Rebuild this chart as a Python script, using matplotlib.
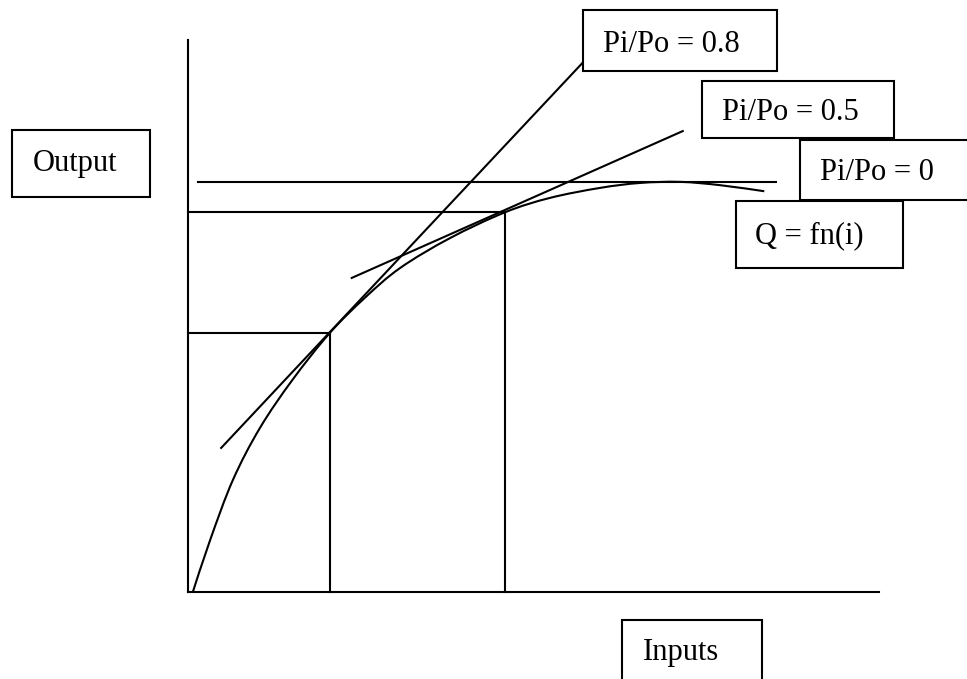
import matplotlib
matplotlib.use("Agg")
import matplotlib.pyplot as plt
import matplotlib.patches as patches
from matplotlib.path import Path

# Production function Q = fn(i) (input, output)
inputs = [0.07, 0.32, 0.65, 1.04, 1.51, 2.05, 2.56, 3.07, 3.79, 4.59,
          5.24, 5.96, 6.54, 7.12, 7.70, 8.34]
output = [0.00, 0.94, 2.03, 2.97, 3.84, 4.69, 5.33, 5.87, 6.41, 6.88,
          7.14, 7.32, 7.41, 7.43, 7.37, 7.26]

# chosen input levels and the output they give
input_levels = [2.05, 4.59]
output_levels = [4.69, 6.88]

# price-ratio lines (Pi/Po), as end points
ratio_08_x = [0.48, 5.72]
ratio_08_y = [2.61, 9.60]
ratio_05_x = [2.37, 7.16]
ratio_05_y = [5.69, 8.35]
ratio_0_x = [0.14, 8.51]
ratio_0_y = [7.43, 7.43]

axis_max = 10

# labels: (text, box left, box top, box right, box bottom, text x, baseline) in pixels
labels = [
    ("Output", 12, 130, 150, 197, 33, 171),
    ("Pi/Po = 0.8", 583, 10, 777, 71, 603, 52),
    ("Pi/Po = 0.5", 702, 81, 894, 138, 722, 120),
    ("Pi/Po = 0", 800, 140, 990, 200, 820, 180),
    ("Q = fn(i)", 736, 201, 903, 268, 755, 243),
    ("Inputs", 622, 620, 762, 700, 643, 660),
]


def smooth_path(xs, ys):
    # bezier segments through the points (catmull-rom handles), so the
    # hand-drawn curve is drawn smooth rather than as a polyline
    pts = list(zip(xs, ys))
    verts = [pts[0]]
    codes = [Path.MOVETO]
    n = len(pts)
    for i in range(n - 1):
        p0 = pts[i - 1] if i > 0 else pts[i]
        p1 = pts[i]
        p2 = pts[i + 1]
        p3 = pts[i + 2] if i + 2 < n else pts[i + 1]
        c1 = (p1[0] + (p2[0] - p0[0]) / 6, p1[1] + (p2[1] - p0[1]) / 6)
        c2 = (p2[0] - (p3[0] - p1[0]) / 6, p2[1] - (p3[1] - p1[1]) / 6)
        verts += [c1, c2, p2]
        codes += [Path.CURVE4] * 3
    return Path(verts, codes)


W, H = 967, 679
fig = plt.figure(figsize=(W / 100, H / 100), dpi=100)
fig.patch.set_facecolor("white")

# data axes: origin sits at pixel (188, 592)
ax = fig.add_axes([0, 0, 1, 1])
sx, sy = 69.1, 55.2
ax.set_xlim(-188 / sx, (W - 188) / sx)
ax.set_ylim(-(H - 592) / sy, 592 / sy)
ax.axis("off")

lw = 1.5
k = "black"
ax.plot([0, axis_max], [0, 0], color=k, lw=lw)
ax.plot([0, 0], [0, axis_max], color=k, lw=lw)

for xi, yo in zip(input_levels, output_levels):
    ax.plot([0, xi], [yo, yo], color=k, lw=lw)
    ax.plot([xi, xi], [0, yo], color=k, lw=lw)

ax.add_patch(patches.PathPatch(smooth_path(inputs, output), facecolor="none",
                               edgecolor=k, lw=lw))
ax.plot(ratio_08_x, ratio_08_y, color=k, lw=lw)
ax.plot(ratio_05_x, ratio_05_y, color=k, lw=lw)
ax.plot(ratio_0_x, ratio_0_y, color=k, lw=lw)

# overlay in pixel coords for the text boxes
ov = fig.add_axes([0, 0, 1, 1])
ov.set_xlim(0, W)
ov.set_ylim(H, 0)
ov.axis("off")
ov.patch.set_alpha(0)

for txt, x0, y0, x1, y1, tx, ty in labels:
    ov.add_patch(patches.Rectangle((x0, y0), x1 - x0, y1 - y0,
                                   facecolor="white", edgecolor=k, lw=lw))
    ov.text(tx, ty, txt, ha="left", va="baseline",
            fontsize=22, family="Liberation Serif", color=k)

fig.savefig("out.png", dpi=100)
